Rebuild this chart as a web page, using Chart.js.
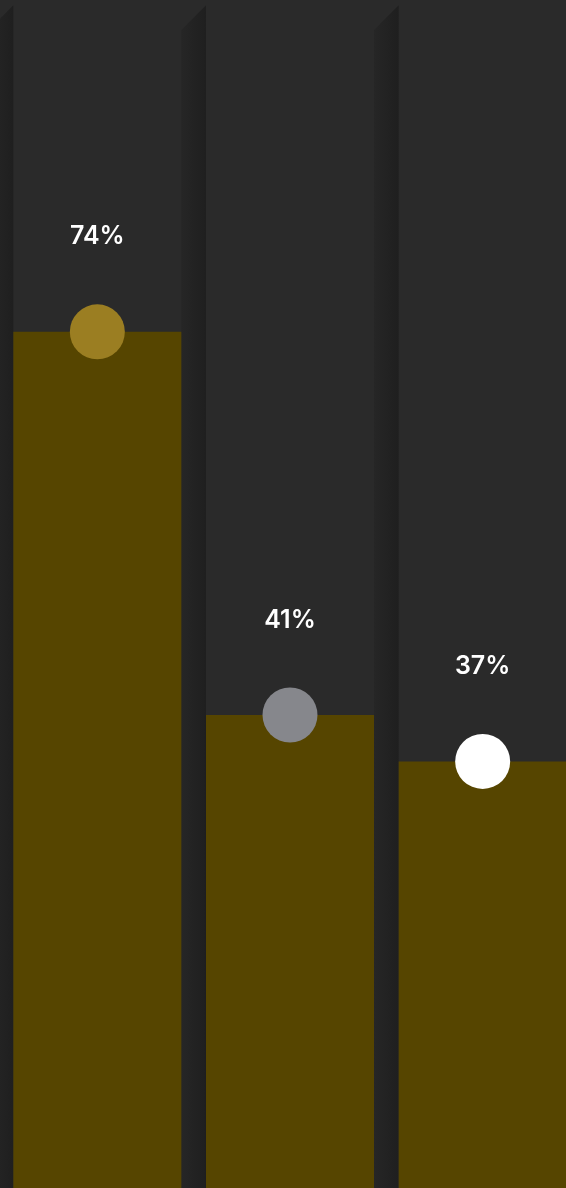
<!DOCTYPE html>
<html>
<head>
<meta charset="utf-8">
<script src="https://cdn.jsdelivr.net/npm/chart.js@4"></script>
<style>
  html, body { margin: 0; padding: 0; background: #2a2a2a; overflow: hidden; }
  canvas { display: block; }
</style>
</head>
<body>
<canvas id="shareChart" width="580" height="1191"></canvas>
<script>
const categories = ['A', 'B', 'C'];
const shares = [74, 41, 37];
const shareLabels = ['74%', '41%', '37%'];
const dotColors = ['#9b7e22', '#86878c', '#ffffff'];

// darker side faces between the columns, with a slanted top
const sideFaces = {
    id: 'sideFaces',
    beforeDatasetsDraw(chart) {
        const ctx = chart.ctx;
        const x = chart.scales.x;
        const y = chart.scales.y;
        const bars = chart.getDatasetMeta(1).data;
        if (!bars.length) return;
        const half = bars[0].width / 2;
        const gap = (x.getPixelForValue(1) - x.getPixelForValue(0)) - bars[0].width;
        const top = y.getPixelForValue(100);
        const bottom = chart.height;
        ctx.save();
        for (let i = -1; i < categories.length; i++) {
            const left = x.getPixelForValue(i) + half;
            const right = left + gap;
            const grad = ctx.createLinearGradient(left, 0, right, 0);
            grad.addColorStop(0, '#262626');
            grad.addColorStop(1, '#1f1f1f');
            ctx.fillStyle = grad;
            ctx.beginPath();
            ctx.moveTo(left, top);
            ctx.lineTo(right, top - gap);
            ctx.lineTo(right, bottom);
            ctx.lineTo(left, bottom);
            ctx.closePath();
            ctx.fill();
        }
        ctx.restore();
    }
};

// percentage text above each dot
const valueLabels = {
    id: 'valueLabels',
    afterDatasetsDraw(chart) {
        const ctx = chart.ctx;
        const x = chart.scales.x;
        const y = chart.scales.y;
        ctx.save();
        ctx.fillStyle = '#ffffff';
        ctx.font = '600 25px Inter, "Open Sans", sans-serif';
        ctx.textAlign = 'center';
        ctx.textBaseline = 'middle';
        shares.forEach((v, i) => {
            ctx.fillText(shareLabels[i], x.getPixelForValue(i), y.getPixelForValue(v) - 95);
        });
        ctx.restore();
    }
};

const ctx = document.getElementById('shareChart').getContext('2d');
new Chart(ctx, {
    data: {
        labels: categories,
        datasets: [
            {
                type: 'line',
                data: shares,
                showLine: false,
                pointRadius: 27.5,
                pointHoverRadius: 27.5,
                pointBorderWidth: 0,
                pointBackgroundColor: dotColors,
                pointBorderColor: dotColors,
                clip: false,
                order: 0
            },
            {
                type: 'bar',
                data: shares,
                backgroundColor: '#564500',
                borderWidth: 0,
                categoryPercentage: 1,
                barPercentage: 0.872,
                order: 1
            }
        ]
    },
    options: {
        responsive: false,
        animation: false,
        layout: { autoPadding: false, padding: { left: 1, top: 30, right: 1, bottom: 0 } },
        plugins: {
            legend: { display: false },
            tooltip: { enabled: false }
        },
        scales: {
            x: { display: false, offset: true },
            y: { display: false, min: 0, max: 100 }
        }
    },
    plugins: [sideFaces, valueLabels]
});
</script>
</body>
</html>
